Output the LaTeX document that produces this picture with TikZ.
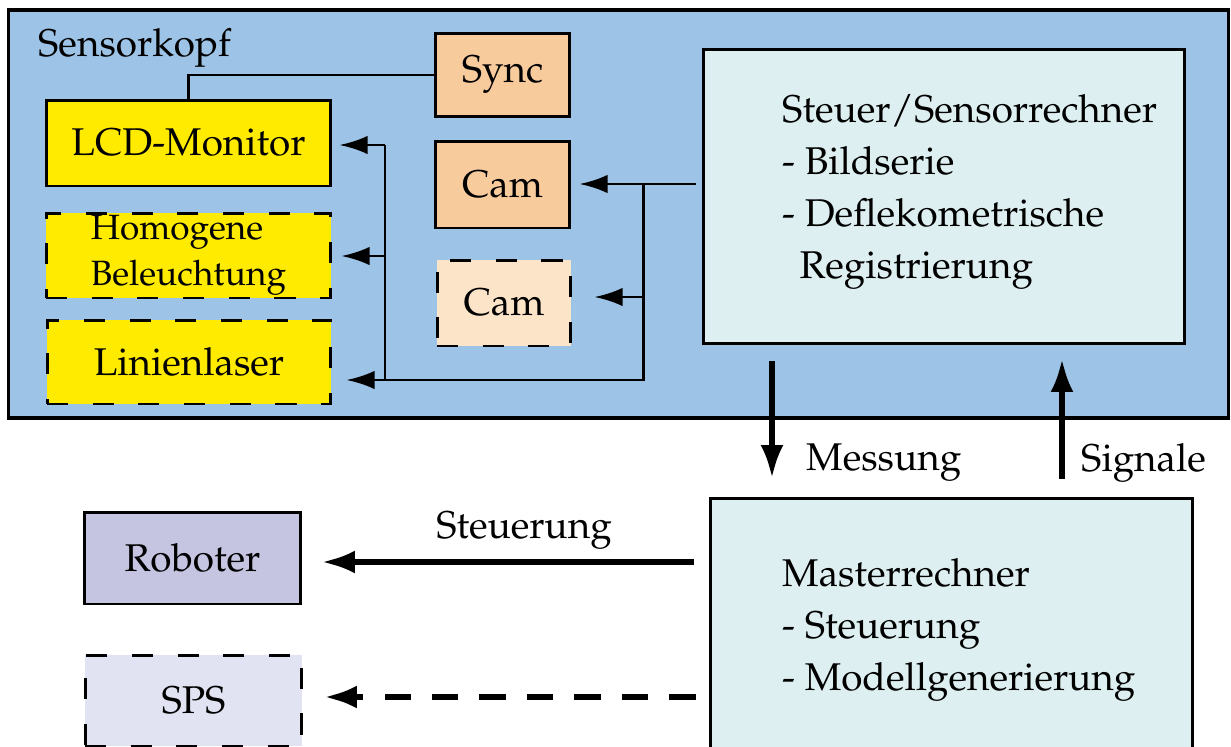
\documentclass[tikz,border=0pt]{standalone}
\usepackage[T1]{fontenc}
\usepackage{mathpazo}
\usetikzlibrary{arrows.meta}

\definecolor{headblue}{HTML}{9DC3E6}
\definecolor{lcdyellow}{HTML}{FFEB00}
\definecolor{campeach}{HTML}{F8CB9D}
\definecolor{campale}{HTML}{FCE4C9}
\definecolor{pcteal}{HTML}{DDEFF0}
\definecolor{robolilac}{HTML}{C5C5E1}
\definecolor{spslilac}{HTML}{E1E2F2}

\begin{document}
\begin{tikzpicture}[x=0.02cm, y=-0.02cm,
  font=\fontsize{22}{26}\selectfont,
  box/.style={draw, line width=1.7pt, inner sep=0pt},
  dashbox/.style={box, dash pattern=on 12pt off 14pt},
  thin/.style={line width=1.7pt},
  thinarrow/.style={thin, -{Latex[length=16pt, width=10.5pt]}},
  fatarrow/.style={line width=3.4pt, -{Latex[length=19pt, width=13pt]}}]
  \useasboundingbox (0,0) rectangle (1231,747);
  % Sensorkopf housing
  \node[box, line width=1.8pt, fill=headblue, minimum width=24.42cm, minimum height=8.16cm] (head) at (618.5,214) {};
  \node[anchor=west] (headlbl) at (32,48) {Sensorkopf};
  % light sources and cameras
  \node[box, fill=campeach, minimum width=2.7cm, minimum height=1.68cm] (sync) at (502.5,75) {Sync};
  \node[box, fill=lcdyellow, minimum width=5.7cm, minimum height=1.72cm] (lcd) at (188.5,143) {LCD-Monitor};
  \node[box, fill=campeach, minimum width=2.7cm, minimum height=1.74cm] (cam1) at (502.5,184.5) {Cam};
  \node[dashbox, fill=lcdyellow, minimum width=5.7cm, minimum height=1.7cm, align=left,
    font=\fontsize{20}{26}\selectfont] (light) at (188.5,255.5) {Homogene\\Beleuchtung};
  \node[dashbox, fill=campale, minimum width=2.68cm, minimum height=1.72cm] (cam2) at (504,303) {Cam};
  \node[dashbox, fill=lcdyellow, minimum width=5.68cm, minimum height=1.68cm] (laser) at (189,362) {Linienlaser};
  % computers
  \node[box, fill=pcteal, minimum width=9.64cm, minimum height=5.9cm] (sensor) at (944,196.5) {};
  \node[anchor=west, align=left, font=\fontsize{22}{29.5}\selectfont] (sensortxt) at (776,192)
    {Steuer/Sensorrechner\\- Bildserie\\- Deflekometrische\\\hspace*{0.45em}Registrierung};
  \node[box, fill=pcteal, minimum width=9.66cm, minimum height=5.12cm] (master) at (951.5,626) {};
  \node[anchor=west, align=left, font=\fontsize{22}{29.5}\selectfont] (mastertxt) at (776,630)
    {Masterrechner\\- Steuerung\\- Modellgenerierung};
  % actors
  \node[box, fill=robolilac, minimum width=4.34cm, minimum height=1.84cm] (roboter) at (192.5,558) {Roboter};
  \node[dashbox, fill=spslilac, minimum width=4.34cm, minimum height=1.82cm] (sps) at (193.5,700.5) {SPS};
  % wiring inside the head
  \coordinate (fork) at (643,184);
  \coordinate (bus) at (385,380);
  \coordinate (bustop) at (385,145);
  \draw[thin] (sync.west) -| (lcd.north);
  \draw[thinarrow, shorten <=0.12cm, shorten >=0.16cm] (sensor.west |- fork) -- (cam1.east |- fork);
  \draw[thin] (fork) |- (bus) -- (bustop);
  \draw[thinarrow, shorten >=0.44cm] (fork |- 0,297) -- (cam2.east |- 0,297);
  \draw[thinarrow, shorten >=0.14cm] (bustop) -- (bustop -| lcd.east);
  \draw[thinarrow, shorten >=0.18cm] (bus |- 0,256) -- (light.east |- 0,256);
  \draw[thinarrow, shorten >=0.28cm] (bus) -- (laser.east |- bus);
  % data flow
  \draw[fatarrow, shorten <=0.32cm, shorten >=0.36cm] (sensor.south -| 772,0) -- (master.north -| 772,0);
  \draw[fatarrow, shorten <=0.36cm, shorten >=0.26cm] (master.north -| 1062,0) -- (sensor.south -| 1062,0);
  \node[anchor=west] (messlbl) at (800,463) {Messung};
  \node[anchor=west] (siglbl) at (1075,463) {Signale};
  \draw[fatarrow, shorten <=0.3cm, shorten >=0.38cm] (master.west |- 0,562) -- (roboter.east |- 0,562);
  \node (steuerlbl) at (524,531) {Steuerung};
  \draw[fatarrow, line width=3.9pt, dash pattern=on 15pt off 12pt, shorten <=0.26cm, shorten >=0.4cm]
    (master.west |- 0,697) -- (sps.east |- 0,697);
\end{tikzpicture}
\end{document}
